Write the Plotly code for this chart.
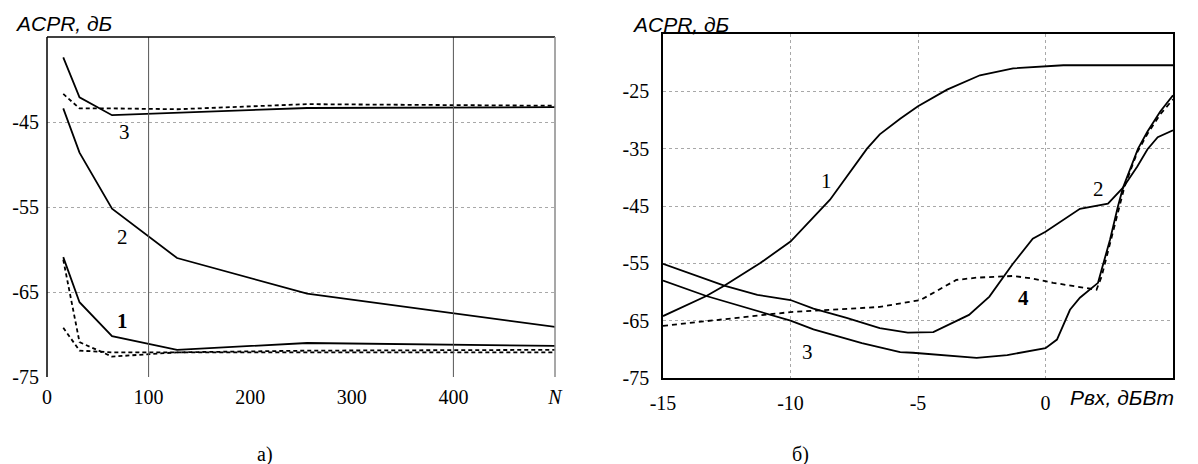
import plotly.graph_objects as go

# ---------------- data: panel a) ----------------
N_vals = [16, 32, 64, 128, 256, 512]
a_curve3_solid = [-37.4, -42.1, -44.2, -43.9, -43.35, -43.25]
a_curve3_dash = [-41.7, -43.4, -43.4, -43.5, -42.9, -43.1]
a_curve2_solid = [-43.4, -48.6, -55.2, -61.0, -65.2, -69.3]
a_curve1_solid = [-60.9, -66.2, -70.2, -71.8, -71.0, -71.35]
a_curve1_dashA = [-61.2, -70.9, -72.6, -72.1, -71.9, -71.8]
a_curve1_dashB = [-69.2, -71.9, -72.1, -72.1, -72.1, -72.1]
a_xticks = [0, 100, 200, 300, 400, 500]
a_xticktext = ["0", "100", "200", "300", "400", "<i>N</i>"]
a_yticks = [-75, -65, -55, -45]
a_yticktext = ["-75", "-65", "-55", "-45"]

# ---------------- data: panel б) ----------------
b1_x = [-15, -13.3, -12.6, -11.2, -10, -8.45, -7, -6.5, -5.7, -5, -3.86, -2.57, -1.27, 0, 0.7, 5]
b1_y = [-64.2, -60.7, -58.9, -55.0, -51.2, -43.9, -35.0, -32.5, -29.8, -27.6, -24.7, -22.2, -21.0, -20.6, -20.45, -20.45]
b2_x = [-15, -12.6, -11.3, -10, -9.1, -7.8, -6.5, -5.4, -4.4, -3.0, -2.2, -1.3, -0.5, 0, 1.35, 2.45, 3.04, 3.6, 4.0, 4.4, 5]
b2_y = [-55.1, -58.9, -60.5, -61.4, -62.9, -64.5, -66.3, -67.1, -67.0, -64.0, -60.8, -55.2, -50.7, -49.5, -45.5, -44.6, -41.8, -38.1, -35.1, -33.0, -31.8]
b3_x = [-15, -13.3, -10, -9.1, -7.2, -5.7, -5.2, -2.7, -1.5, 0, 0.45, 0.96, 1.35, 1.86, 2.06, 2.2, 2.53, 2.84, 3.04, 3.63, 4.0, 4.5, 5]
b3_y = [-58.0, -60.7, -65.0, -66.5, -68.9, -70.5, -70.6, -71.5, -71.0, -69.8, -68.3, -63.1, -61.0, -59.1, -58.4, -56.1, -50.9, -45.1, -41.8, -35.0, -32.0, -28.5, -25.7]
b4_x = [-15, -12.6, -10, -6.5, -4.9, -3.5, -2.7, -1.27, -0.6, 0.3, 1.35, 2.0, 2.2, 2.5, 2.85, 3.1, 3.6, 4.0, 4.5, 5]
b4_y = [-65.9, -64.7, -63.5, -62.6, -61.4, -57.9, -57.5, -57.2, -57.6, -58.4, -59.1, -59.6, -57.3, -52.0, -45.6, -41.6, -35.6, -32.4, -29.0, -26.4]
b_xticks = [-15, -10, -5, 0]
b_xticktext = ["-15", "-10", "-5", "0"]
b_yticks = [-75, -65, -55, -45, -35, -25]
b_yticktext = ["-75", "-65", "-55", "-45", "-35", "-25"]

SERIF = "Liberation Serif"
SANS = "Liberation Sans"

fig = go.Figure()

solid = dict(color="black", width=1.8)
dashA = dict(color="black", width=1.8, dash="4px,3px")

def add(x, y, line, ax):
    fig.add_trace(go.Scatter(x=x, y=y, mode="lines", line=line,
                             xaxis="x" if ax == 1 else "x2",
                             yaxis="y" if ax == 1 else "y2",
                             showlegend=False, hoverinfo="skip"))

add(N_vals, a_curve3_solid, solid, 1)
add(N_vals, a_curve3_dash, dashA, 1)
add(N_vals, a_curve2_solid, solid, 1)
add(N_vals, a_curve1_solid, solid, 1)
add(N_vals, a_curve1_dashA, dashA, 1)
add(N_vals, a_curve1_dashB, dashA, 1)

add(b1_x, b1_y, solid, 2)
add(b2_x, b2_y, solid, 2)
add(b3_x, b3_y, solid, 2)
add(b4_x, b4_y, dict(color="black", width=1.8, dash="5px,4px"), 2)

# page body has an 8px margin: figure is placed at (8, 8) in the window
OFF = 8
W, H = 1190, 456
def px(v):
    return (v - OFF) / W
def py(v):
    return 1 - (v - OFF) / H

grid = dict(gridcolor="#a8a8a8", griddash="dot", gridwidth=1)
tickfont = dict(family=SERIF, size=20, color="black")

fig.update_layout(
    width=W, height=H, margin=dict(l=0, r=0, t=0, b=0, autoexpand=False),
    paper_bgcolor="white", plot_bgcolor="white",
    xaxis=dict(domain=[px(47), px(555)], range=[0, 500], tickvals=a_xticks,
               ticktext=a_xticktext, showgrid=False, zeroline=False,
               showline=False, ticks="", tickfont=tickfont, ticklabelstandoff=6,
               anchor="y", automargin=False),
    yaxis=dict(domain=[py(377), py(37)], range=[-75, -35], tickvals=a_yticks,
               ticktext=a_yticktext,
               zeroline=False, showline=False, ticks="", tickfont=tickfont,
               ticklabelstandoff=7, anchor="x", automargin=False, **grid),
    xaxis2=dict(domain=[px(663), px(1173)], range=[-15, 5], tickvals=b_xticks,
                ticktext=b_xticktext,
                zeroline=False, ticks="", tickfont=tickfont, ticklabelstandoff=6,
                showline=True, linecolor="black", linewidth=1.5, mirror=True,
                anchor="y2", automargin=False, **grid),
    yaxis2=dict(domain=[py(378), py(34)], range=[-75, -15], tickvals=b_yticks,
                ticktext=b_yticktext,
                zeroline=False, ticks="", tickfont=tickfont, ticklabelstandoff=8,
                showline=True, linecolor="black", linewidth=1.5, mirror=True,
                anchor="x2", automargin=False, **grid),
)

shapes = []
for xv in [100, 400]:
    shapes.append(dict(type="line", xref="x", yref="y domain", x0=xv, x1=xv, y0=0, y1=1,
                       line=dict(color="#555555", width=1)))
shapes.append(dict(type="line", xref="x domain", yref="y domain", x0=0, x1=0, y0=0, y1=1,
                   line=dict(color="black", width=1.5)))
shapes.append(dict(type="line", xref="x domain", yref="y domain", x0=0, x1=1, y0=1, y1=1,
                   line=dict(color="black", width=1.5)))
shapes.append(dict(type="line", xref="x domain", yref="y domain", x0=1, x1=1, y0=0, y1=1,
                   line=dict(color="#8a8a8a", width=1.5)))
fig.update_layout(shapes=shapes)

ann = []
numfont = dict(family=SERIF, size=21, color="black")
ann.append(dict(x=76, y=-46.2, xref="x", yref="y", text="3", showarrow=False, font=numfont))
ann.append(dict(x=74, y=-58.5, xref="x", yref="y", text="2", showarrow=False, font=numfont))
ann.append(dict(x=74, y=-68.4, xref="x", yref="y", text="<b>1</b>", showarrow=False, font=numfont))
ann.append(dict(x=-8.57, y=-40.7, xref="x2", yref="y2", text="1", showarrow=False, font=numfont))
ann.append(dict(x=2.06, y=-42.0, xref="x2", yref="y2", text="2", showarrow=False, font=numfont))
ann.append(dict(x=-9.35, y=-70.5, xref="x2", yref="y2", text="3", showarrow=False, font=numfont))
ann.append(dict(x=-0.88, y=-61.0, xref="x2", yref="y2", text="<b>4</b>", showarrow=False, font=numfont))

labfont = dict(family=SANS, size=21, color="black")
ann.append(dict(x=px(13), y=py(23), xref="paper", yref="paper", xanchor="left", yanchor="middle",
                text="<i>ACPR, дБ</i>", showarrow=False, font=labfont))
ann.append(dict(x=px(630), y=py(24), xref="paper", yref="paper", xanchor="left", yanchor="middle",
                text="<i>ACPR, дБ</i>", showarrow=False, font=labfont))
ann.append(dict(x=px(1068), y=py(397), xref="paper", yref="paper", xanchor="left", yanchor="middle",
                text="<i>Рвх, дБВт</i>", showarrow=False, font=labfont))
ann.append(dict(x=px(265), y=py(454), xref="paper", yref="paper", xanchor="center", yanchor="middle",
                text="a)", showarrow=False, font=dict(family=SERIF, size=20, color="black")))
ann.append(dict(x=px(800), y=py(454), xref="paper", yref="paper", xanchor="center", yanchor="middle",
                text="б)", showarrow=False, font=dict(family=SERIF, size=20, color="black")))
fig.update_layout(annotations=ann)

fig.write_html("out.html")
